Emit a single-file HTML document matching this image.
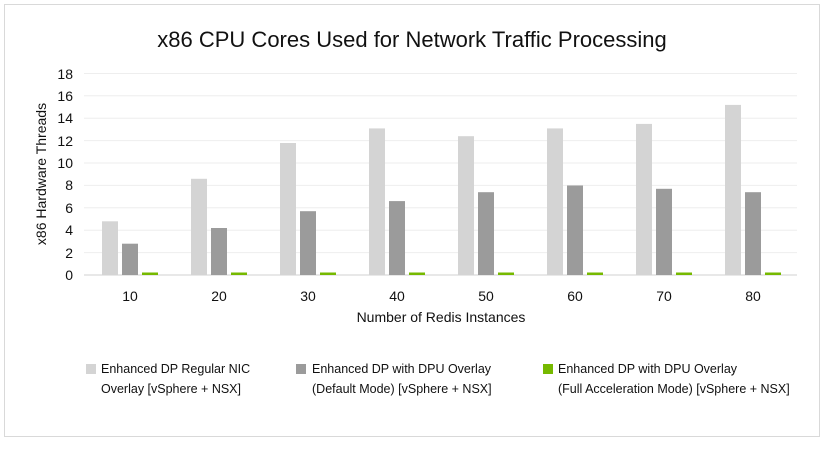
<!DOCTYPE html>
<html><head><style>
body{margin:0;background:#fff;font-family:"Liberation Sans",sans-serif;}
</style></head><body>
<svg width="827" height="444" xmlns="http://www.w3.org/2000/svg" font-family="Liberation Sans, sans-serif">
<rect x="4.5" y="4.5" width="815" height="432" fill="#fff" stroke="#d9d9d9"/>
<text x="412" y="47" font-size="22" text-anchor="middle" fill="#111">x86 CPU Cores Used for Network Traffic Processing</text>
<g stroke="#eeeeee" stroke-width="1">
<line x1="84" x2="797" y1="73.5" y2="73.5"/><line x1="84" x2="797" y1="95.8" y2="95.8"/>
<line x1="84" x2="797" y1="118.2" y2="118.2"/><line x1="84" x2="797" y1="140.6" y2="140.6"/>
<line x1="84" x2="797" y1="163" y2="163"/><line x1="84" x2="797" y1="185.4" y2="185.4"/>
<line x1="84" x2="797" y1="207.8" y2="207.8"/><line x1="84" x2="797" y1="230.2" y2="230.2"/>
<line x1="84" x2="797" y1="252.6" y2="252.6"/>
</g>
<line x1="84" x2="797" y1="275" y2="275" stroke="#d0d0d0"/>
<g font-size="14" fill="#111" text-anchor="end">
<text x="73" y="79">18</text><text x="73" y="101">16</text><text x="73" y="123">14</text><text x="73" y="146">12</text><text x="73" y="168">10</text><text x="73" y="190">8</text><text x="73" y="213">6</text><text x="73" y="235">4</text><text x="73" y="258">2</text><text x="73" y="280">0</text>
</g>
<text transform="translate(46,174) rotate(-90)" font-size="14" text-anchor="middle" fill="#111">x86 Hardware Threads</text>
<g fill="#d4d4d4">
<rect x="102" y="221.3" width="16" height="53.7"/>
<rect x="191" y="178.8" width="16" height="96.2"/>
<rect x="280" y="143" width="16" height="132"/>
<rect x="369" y="128.4" width="16" height="146.6"/>
<rect x="458" y="136.2" width="16" height="138.8"/>
<rect x="547" y="128.4" width="16" height="146.6"/>
<rect x="636" y="123.9" width="16" height="151.1"/>
<rect x="725" y="104.9" width="16" height="170.1"/>
</g>
<g fill="#9b9b9b">
<rect x="122" y="243.7" width="16" height="31.3"/>
<rect x="211" y="228" width="16" height="47"/>
<rect x="300" y="211.2" width="16" height="63.8"/>
<rect x="389" y="201.1" width="16" height="73.9"/>
<rect x="478" y="192.2" width="16" height="82.8"/>
<rect x="567" y="185.5" width="16" height="89.5"/>
<rect x="656" y="188.8" width="16" height="86.2"/>
<rect x="745" y="192.2" width="16" height="82.8"/>
</g>
<g fill="#76b900">
<rect x="142" y="272.5" width="16" height="2.5"/>
<rect x="231" y="272.5" width="16" height="2.5"/>
<rect x="320" y="272.5" width="16" height="2.5"/>
<rect x="409" y="272.5" width="16" height="2.5"/>
<rect x="498" y="272.5" width="16" height="2.5"/>
<rect x="587" y="272.5" width="16" height="2.5"/>
<rect x="676" y="272.5" width="16" height="2.5"/>
<rect x="765" y="272.5" width="16" height="2.5"/>
</g>
<g font-size="14" fill="#111" text-anchor="middle">
<text x="130" y="301">10</text><text x="219" y="301">20</text><text x="308" y="301">30</text><text x="397" y="301">40</text><text x="486" y="301">50</text><text x="575" y="301">60</text><text x="664" y="301">70</text><text x="753" y="301">80</text>
</g>
<text x="441" y="322" font-size="14" text-anchor="middle" fill="#111">Number of Redis Instances</text>
<g font-size="12.5" fill="#111">
<rect x="86" y="364" width="10" height="10" fill="#d4d4d4"/>
<text x="101" y="373">Enhanced DP Regular NIC</text><text x="101" y="393">Overlay [vSphere + NSX]</text>
<rect x="296" y="364" width="10" height="10" fill="#9b9b9b"/>
<text x="312" y="373">Enhanced DP with DPU Overlay</text><text x="312" y="393">(Default Mode) [vSphere + NSX]</text>
<rect x="543" y="364" width="10" height="10" fill="#76b900"/>
<text x="558" y="373">Enhanced DP with DPU Overlay</text><text x="558" y="393">(Full Acceleration Mode) [vSphere + NSX]</text>
</g>
</svg>
</body></html>
